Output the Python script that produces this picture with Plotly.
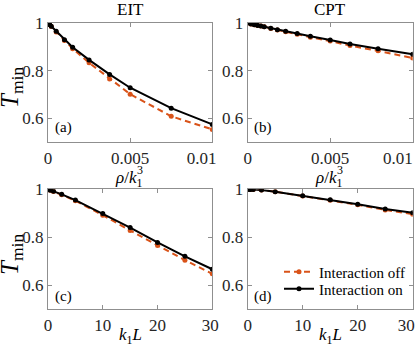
import plotly.graph_objects as go
from plotly.subplots import make_subplots

# Data

# (a) EIT, T_min vs rho/k1^3
a_rho = [0, 0.0001, 0.0002, 0.0005, 0.001, 0.0015, 0.0025, 0.00375, 0.005, 0.0075, 0.01]
a_on = [1.0, 0.993, 0.986, 0.965, 0.930, 0.898, 0.845, 0.784, 0.728, 0.642, 0.574]
a_off = [1.0, 0.993, 0.985, 0.962, 0.926, 0.892, 0.833, 0.765, 0.701, 0.608, 0.553]

# (b) CPT, T_min vs rho/k1^3
b_rho = [0, 0.0002, 0.0004, 0.0006, 0.0008, 0.001, 0.0014, 0.0018, 0.0023, 0.003,
         0.0038, 0.005, 0.0062, 0.0079, 0.01]
b_on = [1.0, 0.996, 0.993, 0.990, 0.987, 0.984, 0.978, 0.972, 0.965, 0.956,
        0.944, 0.929, 0.912, 0.892, 0.869]
b_off = [1.0, 0.996, 0.993, 0.990, 0.987, 0.984, 0.977, 0.971, 0.963, 0.953,
         0.940, 0.924, 0.905, 0.883, 0.853]

# (c) EIT, T_min vs k1 L
c_kL = [0, 0.25, 0.5, 1, 2.5, 5, 10, 15, 20, 25, 30]
c_on = [1.0, 0.998, 0.996, 0.992, 0.979, 0.955, 0.899, 0.840, 0.778, 0.720, 0.666]
c_off = [1.0, 0.998, 0.996, 0.991, 0.977, 0.952, 0.892, 0.828, 0.765, 0.704, 0.647]

# (d) CPT, T_min vs k1 L
d_kL = [0, 0.25, 0.5, 1, 2.5, 5, 10, 15, 20, 25, 30]
d_on = [1.0, 1.0, 0.999, 0.999, 0.997, 0.990, 0.973, 0.956, 0.938, 0.918, 0.902]
d_off = [1.0, 1.0, 0.999, 0.999, 0.997, 0.990, 0.972, 0.954, 0.935, 0.914, 0.896]

col_titles = ["EIT", "CPT"]
panel_tags = ["(a)", "(b)", "(c)", "(d)"]
y_ticks = [0.6, 0.8, 1.0]
y_ticktext = ["0.6", "0.8", "1"]
rho_ticks = [0, 0.005, 0.01]
rho_ticktext = ["0", "0.005", "0.01"]
kL_ticks = [0, 10, 20, 30]
kL_ticktext = ["0", "10", "20", "30"]

W, H = 415, 347
ORANGE = "#D95319"
FONT = "Liberation Serif, Times New Roman, serif"
NB = "\u00a0"


def px(x):
    return x / W


def py(y):
    return 1 - y / H


def label(text, x, y, size=17, **kw):
    fig.add_annotation(x=px(x), y=py(y), text=text, showarrow=False,
                       xref='paper', yref='paper', xanchor='center', yanchor='middle',
                       font=dict(family=FONT, size=size, color='black'), **kw)


fig = make_subplots(rows=2, cols=2)

panels = [(a_rho, a_off, a_on, 1, 1), (b_rho, b_off, b_on, 1, 2),
          (c_kL, c_off, c_on, 2, 1), (d_kL, d_off, d_on, 2, 2)]

for xs, off, on, r, c in panels:
    show = (r == 2 and c == 2)
    fig.add_trace(go.Scatter(x=xs, y=off, mode='lines+markers', name='Interaction off',
                             line=dict(color=ORANGE, width=2, dash='6px,4px'),
                             marker=dict(color=ORANGE, size=5),
                             showlegend=show, legend='legend'), row=r, col=c)
    fig.add_trace(go.Scatter(x=xs, y=on, mode='lines+markers', name='Interaction on',
                             line=dict(color='black', width=2),
                             marker=dict(color='black', size=5),
                             showlegend=show, legend='legend2'), row=r, col=c)

axis_style = dict(showline=True, linecolor='#8f8f8f', linewidth=1, mirror='ticks',
                  ticks='inside', ticklen=4, tickcolor='#8f8f8f', showgrid=False,
                  zeroline=False, automargin=False, ticklabeloverflow='allow',
                  tickfont=dict(family=FONT, size=17, color='#262626'))

x_dom = [[px(48), px(212.3)], [px(247.7), px(412.7)]]
y_dom = [[py(142), py(23)], [py(309), py(189.3)]]

# the last x label sits a little left of its tick in the reference
end_pad = {(1, 1): 5, (1, 2): 7, (2, 1): 1, (2, 2): 3}

for r in (1, 2):
    for c in (1, 2):
        fig.update_xaxes(axis_style, domain=x_dom[c - 1], ticklabelstandoff=1,
                         row=r, col=c)
        fig.update_yaxes(axis_style, domain=y_dom[r - 1], range=[0.5, 1],
                         tickvals=y_ticks, ticktext=y_ticktext, row=r, col=c)
        if r == 1:
            tt = rho_ticktext[:-1] + [rho_ticktext[-1] + NB * end_pad[(r, c)]]
            fig.update_xaxes(range=[0, 0.01], tickvals=rho_ticks, ticktext=tt,
                             row=r, col=c)
        else:
            tt = kL_ticktext[:-1] + [kL_ticktext[-1] + NB * end_pad[(r, c)]]
            fig.update_xaxes(range=[0, 30], tickvals=kL_ticks, ticktext=tt,
                             row=r, col=c)

# Titles and labels

label(col_titles[0], 130, 10)
label(col_titles[1], 330, 10)

for xc in (130, 330):
    # rho/k1^3 with the 1 and 3 stacked
    label("<i>ρ</i>/<i>k</i><sub>1</sub>", xc - 2, 179)
    label("3", xc + 10, 170, size=12)
    label("<i>k</i><sub>1</sub><i>L</i>", xc, 336)

for yc in (88, 255):
    label("<i>T</i><sub>min</sub>", 11, yc, size=25, textangle=-90)

tag_pos = [(63, 127), (263, 127), (63, 296), (263, 296)]
for tag, (tx, ty) in zip(panel_tags, tag_pos):
    label(tag, tx, ty, size=15)

leg_style = dict(xanchor='left', yanchor='middle', bgcolor='rgba(0,0,0,0)',
                 font=dict(family=FONT, size=15, color='black'), itemwidth=30)

fig.update_layout(width=W, height=H,
                  margin=dict(l=0, r=0, t=0, b=0),
                  plot_bgcolor='white', paper_bgcolor='white',
                  legend=dict(leg_style, x=px(279), y=py(272)),
                  legend2=dict(leg_style, x=px(279), y=py(289)),
                  font=dict(family=FONT))

# page has a default 8px body margin, drop it so the figure sits at 0,0
fig.write_html("out.html", config={'displayModeBar': False},
               post_script="document.body.style.margin='0';")
